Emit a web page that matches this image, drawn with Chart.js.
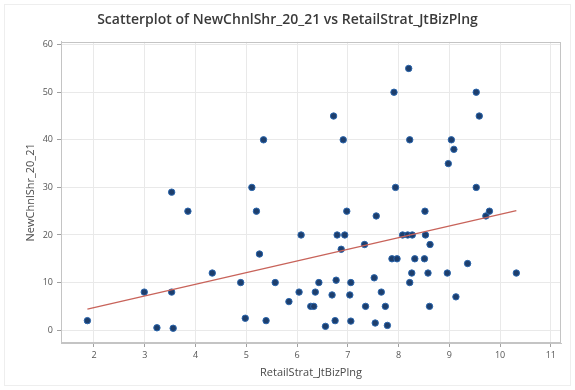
<!DOCTYPE html>
<html>
<head>
<meta charset="utf-8">
<script src="https://cdn.jsdelivr.net/npm/chart.js@4/dist/chart.umd.min.js"></script>
<style>
  html, body { margin: 0; padding: 0; background: #ffffff; }
  #wrap { width: 575px; height: 390px; }
</style>
</head>
<body>
<div id="wrap"><canvas id="chart" width="575" height="390"></canvas></div>
<script>
// Observations: RetailStrat_JtBizPlng (x) and NewChnlShr_20_21 (y)
const retailStrat = [
  1.87, 2.99, 3.24, 3.56, 3.53, 3.53, 3.85, 4.33, 4.89, 4.98,
  5.11, 5.20, 5.26, 5.34, 5.39, 5.57, 5.84, 6.04, 6.08, 6.27,
  6.33, 6.36, 6.43, 6.56, 6.69, 6.72, 6.77, 6.75, 6.79, 6.87,
  6.91, 6.94, 6.98, 7.04, 7.06, 7.06, 7.33, 7.35, 7.52, 7.54,
  7.56, 7.66, 7.74, 7.78, 7.87, 7.91, 7.94, 7.97, 8.08, 8.18,
  8.20, 8.22, 8.22, 8.26, 8.27, 8.32, 8.51, 8.52, 8.53, 8.58,
  8.61, 8.62, 8.96, 8.98, 9.04, 9.09, 9.13, 9.36, 9.53, 9.53,
  9.59, 9.72, 9.79, 10.32
];
const newChnlShr = [
  2, 8, 0.5, 0.4, 8, 29, 25, 12, 10, 2.5,
  30, 25, 16, 40, 2, 10, 6, 8, 20, 5,
  5, 8, 10, 0.8, 7.4, 45, 10.5, 2, 20, 17,
  40, 20, 25, 7.4, 10, 1.9, 18, 5, 11, 1.5,
  24, 8, 5, 1, 15, 50, 30, 15, 20, 20,
  55, 40, 10, 12, 20, 15, 15, 25, 20, 12,
  5, 18, 12, 35, 40, 38, 7, 14, 50, 30,
  45, 24, 25, 12
];

// Fitted regression line endpoints (x, y)
const fitX = [1.87, 10.32];
const fitY = [4.4, 25.1];

// Axis tick values
const xTicks = [2, 3, 4, 5, 6, 7, 8, 9, 10, 11];
const yTicks = [0, 10, 20, 30, 40, 50, 60];

const points = retailStrat.map((x, i) => ({ x: x, y: newChnlShr[i] }));
const fitPoints = fitX.map((x, i) => ({ x: x, y: fitY[i] }));

const FONT = '"Open Sans", "Noto Sans", "DejaVu Sans", sans-serif';

// White background, faint frame and a full border round the plot area
const frame = {
  id: 'frame',
  beforeDraw(chart) {
    const ctx = chart.ctx;
    ctx.save();
    ctx.fillStyle = '#ffffff';
    ctx.fillRect(0, 0, chart.width, chart.height);
    ctx.strokeStyle = '#eeeeee';
    ctx.lineWidth = 1;
    ctx.strokeRect(4.5, 4.5, chart.width - 9, chart.height - 9);
    ctx.restore();
  },
  afterDatasetsDraw(chart) {
    const a = chart.chartArea;
    const ctx = chart.ctx;
    ctx.save();
    ctx.strokeStyle = '#c4c4c4';
    ctx.lineWidth = 1;
    ctx.strokeRect(Math.round(a.left) + 0.5, Math.round(a.top) + 0.5,
                   Math.round(a.right - a.left) - 1, Math.round(a.bottom - a.top) - 1);
    ctx.restore();
  }
};

new Chart(document.getElementById('chart'), {
  type: 'scatter',
  data: {
    datasets: [
      {
        label: 'NewChnlShr_20_21',
        data: points,
        backgroundColor: '#1d3e6c',
        borderColor: '#2b66ad',
        borderWidth: 1,
        pointRadius: 3.2,
        pointHoverRadius: 3.2,
        order: 2
      },
      {
        type: 'line',
        label: 'Fit',
        data: fitPoints,
        showLine: true,
        borderColor: '#c8635a',
        borderWidth: 1.3,
        pointRadius: 0,
        fill: false,
        order: 1
      }
    ]
  },
  options: {
    responsive: false,
    animation: false,
    devicePixelRatio: 1,
    layout: { padding: { left: 14, right: 14, top: 0, bottom: 0 } },
    plugins: {
      legend: { display: false },
      tooltip: { enabled: false },
      title: {
        display: true,
        text: 'Scatterplot of NewChnlShr_20_21 vs RetailStrat_JtBizPlng',
        color: '#3a3a3a',
        font: { family: FONT, size: 14, weight: '600' },
        padding: { top: 12, bottom: 13 }
      }
    },
    scales: {
      x: {
        type: 'linear',
        min: 1.35,
        max: 11.2,
        afterBuildTicks(scale) { scale.ticks = xTicks.map(v => ({ value: v })); },
        afterFit(scale) { scale.height = 47; },
        ticks: {
          includeBounds: false,
          color: '#555555',
          font: { family: FONT, size: 9 },
          padding: 3
        },
        grid: {
          color: '#e9e9e9',
          tickColor: '#a0a0a0',
          tickLength: 4,
          drawTicks: true
        },
        border: { display: true, color: '#c4c4c4' },
        title: {
          display: true,
          text: 'RetailStrat_JtBizPlng',
          color: '#4a4a4a',
          font: { family: FONT, size: 11 },
          padding: { top: 4, bottom: 11 }
        }
      },
      y: {
        type: 'linear',
        min: -2.7,
        max: 60.6,
        afterBuildTicks(scale) { scale.ticks = yTicks.map(v => ({ value: v })); },
        afterFit(scale) { scale.width = 47; },
        ticks: {
          includeBounds: false,
          color: '#555555',
          font: { family: FONT, size: 9 },
          padding: 4
        },
        grid: {
          color: '#e9e9e9',
          tickColor: '#a0a0a0',
          tickLength: 4,
          drawTicks: true
        },
        border: { display: true, color: '#c4c4c4' },
        title: {
          display: true,
          text: 'NewChnlShr_20_21',
          color: '#4a4a4a',
          font: { family: FONT, size: 11 },
          padding: { top: 10, bottom: 4 }
        }
      }
    }
  },
  plugins: [frame]
});
</script>
</body>
</html>
